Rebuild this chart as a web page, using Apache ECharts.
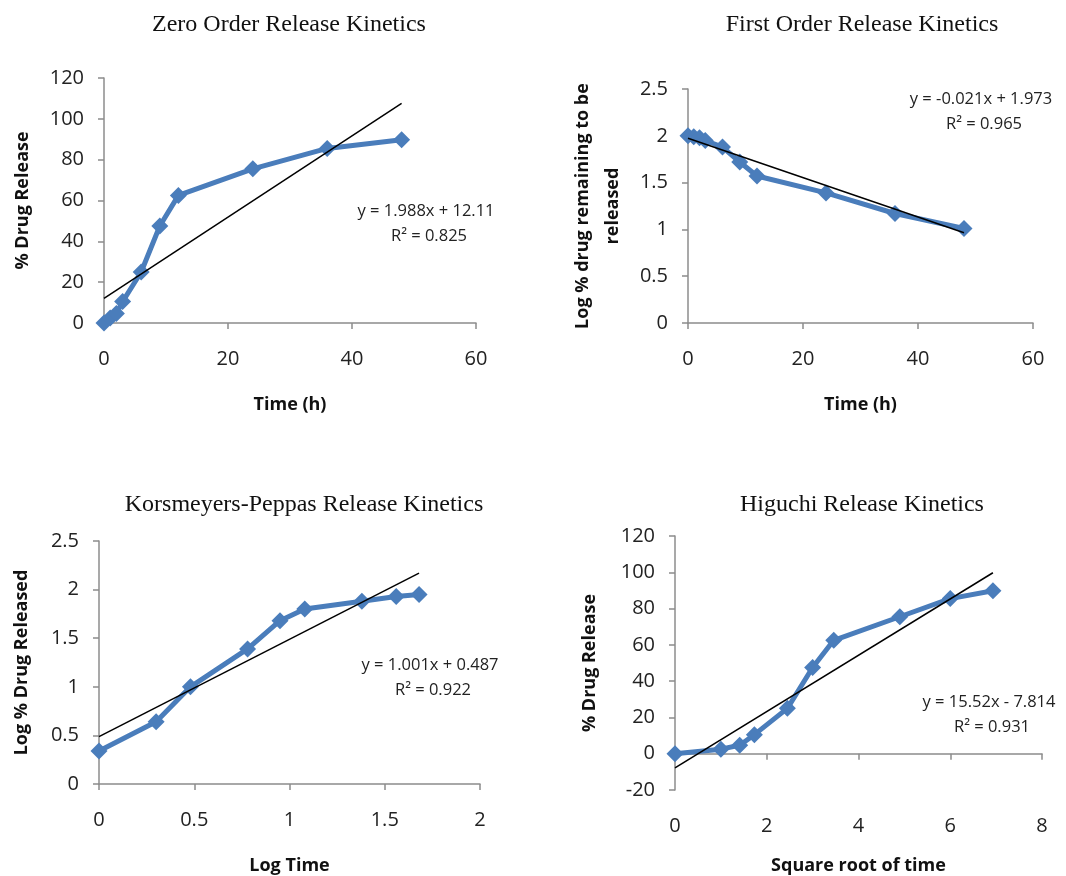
<!DOCTYPE html>
<html>
<head>
<meta charset="utf-8">
<script src="https://cdn.jsdelivr.net/npm/echarts@6/dist/echarts.min.js"></script>
<style>
html,body{margin:0;padding:0;background:#fff;}
#main{width:1066px;height:876px;}
</style>
</head>
<body>
<div id="main"></div>
<script>
// 采样时间 (h)
var timeH = [0, 1, 2, 3, 6, 9, 12, 24, 36, 48];
// 累计释放 %
var drugRelease = [0, 2.5, 4.7, 10.5, 25, 47.5, 62.5, 75.5, 85.5, 89.8];
// 一级动力学 log % 剩余
var logRemaining = [2.0, 1.99, 1.98, 1.95, 1.88, 1.72, 1.57, 1.39, 1.17, 1.01];
// Korsmeyer-Peppas
var logTime = [0, 0.30, 0.48, 0.78, 0.95, 1.08, 1.38, 1.56, 1.68];
var logReleased = [0.34, 0.64, 1.0, 1.39, 1.68, 1.80, 1.88, 1.93, 1.95];
// Higuchi
var sqrtTime = [0, 1, 1.41, 1.73, 2.45, 3, 3.46, 4.9, 6, 6.93];

// 趋势线 [斜率, 截距]
var trendZero = [1.988, 12.11];
var trendFirst = [-0.021, 1.973];
var trendKP = [1.001, 0.487];
var trendHiguchi = [15.52, -7.814];

var titles = ['Zero Order Release Kinetics', 'First Order Release Kinetics',
              'Korsmeyers-Peppas Release Kinetics', 'Higuchi Release Kinetics'];
var equations = [['y = 1.988x + 12.11', 'R² = 0.825'],
                 ['y = -0.021x + 1.973', 'R² = 0.965'],
                 ['y = 1.001x + 0.487', 'R² = 0.922'],
                 ['y = 15.52x - 7.814', 'R² = 0.931']];

function pairs(xs, ys) {
    return xs.map(function (x, i) { return [x, ys[i]]; });
}
function trend(xs, c) {
    var x0 = xs[0], x1 = xs[xs.length - 1];
    return [[x0, c[0] * x0 + c[1]], [x1, c[0] * x1 + c[1]]];
}

var blue = '#4a7dbb';
var axisGray = '#8c8c8c';
var sans = '"Open Sans"';

function xAxisOf(idx, min, max, step, name, gap) {
    return {
        type: 'value', gridIndex: idx, min: min, max: max, interval: step,
        name: name, nameLocation: 'middle', nameGap: gap,
        nameTextStyle: {fontFamily: sans, fontWeight: 'bold', fontSize: 18, color: '#111'},
        axisLine: {lineStyle: {color: axisGray, width: 1.5}},
        axisTick: {length: 6, lineStyle: {color: axisGray, width: 1.5}},
        axisLabel: {fontFamily: sans, fontSize: 20, color: '#222', margin: 26},
        splitLine: {show: false}
    };
}
function yAxisOf(idx, min, max, step, name, gap) {
    return {
        type: 'value', gridIndex: idx, min: min, max: max, interval: step,
        name: name, nameLocation: 'middle', nameGap: gap,
        nameTextStyle: {fontFamily: sans, fontWeight: 'bold', fontSize: 18, color: '#111', lineHeight: 30},
        axisLine: {show: true, lineStyle: {color: axisGray, width: 1.5}},
        axisTick: {show: true, length: 6, lineStyle: {color: axisGray, width: 1.5}},
        axisLabel: {fontFamily: sans, fontSize: 20, color: '#222', margin: 20},
        splitLine: {show: false}
    };
}
function dataSeries(idx, data) {
    return {
        type: 'line', xAxisIndex: idx, yAxisIndex: idx, data: data,
        symbol: 'diamond', symbolSize: 17,
        lineStyle: {color: blue, width: 5},
        itemStyle: {color: blue},
        z: 2
    };
}
function trendSeries(idx, data) {
    return {
        type: 'line', xAxisIndex: idx, yAxisIndex: idx, data: data,
        symbol: 'none', lineStyle: {color: '#000', width: 1.5}, z: 3
    };
}

// 标题 / 公式位置
var titlePos = [[289, 25], [862, 25], [304, 505], [862, 505]];
var eqPos = [[426, 211], [981, 99], [430, 665], [989, 702]];

var graphics = [];
titles.forEach(function (t, i) {
    graphics.push({
        type: 'text', x: titlePos[i][0], y: titlePos[i][1],
        style: {text: t, fill: '#111', align: 'center', verticalAlign: 'middle',
                font: '24px "Liberation Serif"'}
    });
});
equations.forEach(function (e, i) {
    graphics.push({
        type: 'text', x: eqPos[i][0], y: eqPos[i][1],
        style: {text: e[0], fill: '#222', align: 'center', verticalAlign: 'middle',
                font: '16.5px "Open Sans"'}
    });
    graphics.push({
        type: 'text', x: eqPos[i][0] + 3, y: eqPos[i][1] + 25,
        style: {text: e[1], fill: '#222', align: 'center', verticalAlign: 'middle',
                font: '16.5px "Open Sans"'}
    });
});

var chart = echarts.init(document.getElementById('main'));
chart.setOption({
    backgroundColor: '#fff',
    animation: false,
    grid: [
        {left: 104, top: 78, width: 372, height: 245},
        {left: 688, top: 89, width: 345, height: 234},
        {left: 99, top: 541, width: 381, height: 245},
        {left: 675, top: 536, width: 367, height: 298}
    ],
    xAxis: [
        xAxisOf(0, 0, 60, 20, 'Time (h)', 73),
        xAxisOf(1, 0, 60, 20, 'Time (h)', 73),
        xAxisOf(2, 0, 2, 0.5, 'Log Time', 73),
        xAxisOf(3, 0, 8, 2, 'Square root of time', 67)
    ],
    yAxis: [
        yAxisOf(0, 0, 120, 20, '% Drug Release', 66),
        yAxisOf(1, 0, 2.5, 0.5, 'Log % drug remaining to be\nreleased', 60),
        yAxisOf(2, 0, 2.5, 0.5, 'Log % Drug Released', 62),
        yAxisOf(3, -20, 120, 20, '% Drug Release', 70)
    ],
    series: [
        dataSeries(0, pairs(timeH, drugRelease)),
        trendSeries(0, trend(timeH, trendZero)),
        dataSeries(1, pairs(timeH, logRemaining)),
        trendSeries(1, trend(timeH, trendFirst)),
        dataSeries(2, pairs(logTime, logReleased)),
        trendSeries(2, trend(logTime, trendKP)),
        dataSeries(3, pairs(sqrtTime, drugRelease)),
        trendSeries(3, trend(sqrtTime, trendHiguchi))
    ],
    graphic: graphics
});
</script>
</body>
</html>
